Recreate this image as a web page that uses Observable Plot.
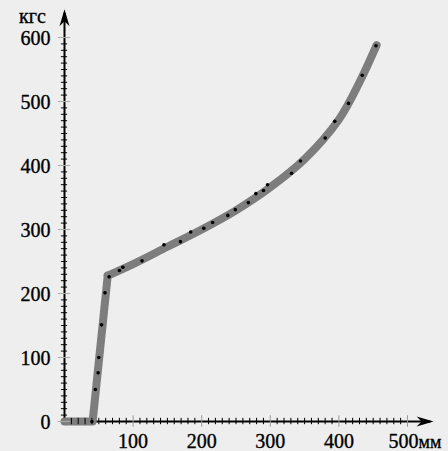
<!DOCTYPE html>
<html><head><meta charset="utf-8">
<script src="https://cdn.jsdelivr.net/npm/d3@7"></script>
<script src="https://cdn.jsdelivr.net/npm/@observablehq/plot@0.6"></script>
<style>
html,body{margin:0;padding:0;background:#eeeeee;}
#chart svg{display:block;background:transparent;}
</style></head>
<body><div id="chart"></div>
<script>
// Straight (loading) part of the curve
const straightX = [0, 41, 63];
const straightY = [0, 0, 228];
// Smooth part of the curve
const curveX = [63, 100, 150, 200, 250, 300, 350, 400, 430, 455];
const curveY = [228, 246, 273, 300, 330, 366, 410, 472, 530, 588];
// Measured points
const pointX = [40, 45, 49, 50, 54, 59, 65, 80, 85, 113, 145, 169, 184, 203, 216, 238, 249, 268, 279, 290, 296, 331, 344, 380, 394, 414, 434, 454];
const pointY = [0, 50, 76, 100, 151, 201, 226, 236, 241, 251, 276, 281, 296, 302, 311, 322, 331, 342, 356, 361, 370, 388, 407, 443, 469, 497, 541, 587];
// Ticks
const xMajor = [100, 200, 300, 400, 500];
const xLabels = ["100", "200", "300", "400", "500"];
const yMajor = [0, 100, 200, 300, 400, 500, 600];
const yLabels = ["0", "100", "200", "300", "400", "500", "600"];
const xMinor = d3.range(10, 500, 10).filter(v => v % 100 !== 0);
const yMinor = d3.range(10, 600, 10).filter(v => v % 100 !== 0);
const xUnit = "мм";
const yUnit = "кгс";
const xEnd = 538, yEnd = 644;

const straight = straightX.map((x, i) => ({x, y: straightY[i]}));
const curve = curveX.map((x, i) => ({x, y: curveY[i]}));
const points = pointX.map((x, i) => ({x, y: pointY[i]}));

const stealth = {
  draw(ctx) {
    ctx.moveTo(0, 0);
    ctx.lineTo(5, 17);
    ctx.lineTo(0, 12);
    ctx.lineTo(-5, 17);
    ctx.closePath();
  }
};

const font = "Liberation Serif";
const textStyle = {fontFamily: font, fontSize: 20, fill: "black", stroke: "black", strokeWidth: 0.35};

const chart = Plot.plot({
  width: 448,
  height: 451,
  marginLeft: 64,
  marginRight: 41,
  marginTop: 37,
  marginBottom: 30,
  x: {domain: [0, 500], axis: null},
  y: {domain: [0, 600], axis: null},
  style: {background: "transparent", fontFamily: font},
  marks: [
    Plot.ruleY([0], {x1: 0, x2: xEnd - 4, stroke: "black", strokeWidth: 2}),
    Plot.ruleX([0], {y1: 0, y2: yEnd - 6, stroke: "black", strokeWidth: 2}),
    Plot.line(straight, {x: "x", y: "y", stroke: "#7d7d7d", strokeWidth: 8, strokeLinejoin: "round", strokeLinecap: "round"}),
    Plot.line(curve, {x: "x", y: "y", curve: "catmull-rom", stroke: "#7d7d7d", strokeWidth: 8, strokeLinejoin: "round", strokeLinecap: "round"}),
    Plot.ruleX(xMinor, {y1: -5, y2: 5, stroke: "black", strokeWidth: 1}),
    Plot.ruleY(yMinor, {x1: -4.5, x2: 4.5, stroke: "black", strokeWidth: 1}),
    Plot.ruleX(xMajor, {y1: -9, y2: 9, stroke: "#999", strokeWidth: 1}),
    Plot.ruleY(yMajor, {x1: -9, x2: 9, stroke: "#aaa", strokeWidth: 1}),
    Plot.dot([{x: 0, y: yEnd, r: 0}], {x: "x", y: "y", symbol: stealth, fill: "black", stroke: null}),
    Plot.dot([{x: xEnd, y: 0, r: 90}], {x: "x", y: "y", rotate: "r", symbol: stealth, fill: "black", stroke: null}),
    Plot.dot(points, {x: "x", y: "y", r: 1.8, fill: "black"}),
    Plot.text(xMajor.slice(0, 4), {x: d => d, y: 0, text: (d, i) => xLabels[i], dy: 20, ...textStyle}),
    Plot.text([xMajor[4]], {x: d => d, y: 0, text: () => xLabels[4], dx: -4, dy: 20, ...textStyle}),
    Plot.text(yMajor, {x: 0, y: d => d, text: (d, i) => yLabels[i], dx: -14, dy: 1, textAnchor: "end", ...textStyle}),
    Plot.text([xUnit], {x: 500, y: 0, text: d => d, dx: 11, dy: 21, textAnchor: "start", ...textStyle, fontSize: 18}),
    Plot.text([yUnit], {x: 0, y: 600, text: d => d, dx: -32, dy: -21, ...textStyle})
  ]
});
document.getElementById("chart").append(chart);
</script>
</body></html>
